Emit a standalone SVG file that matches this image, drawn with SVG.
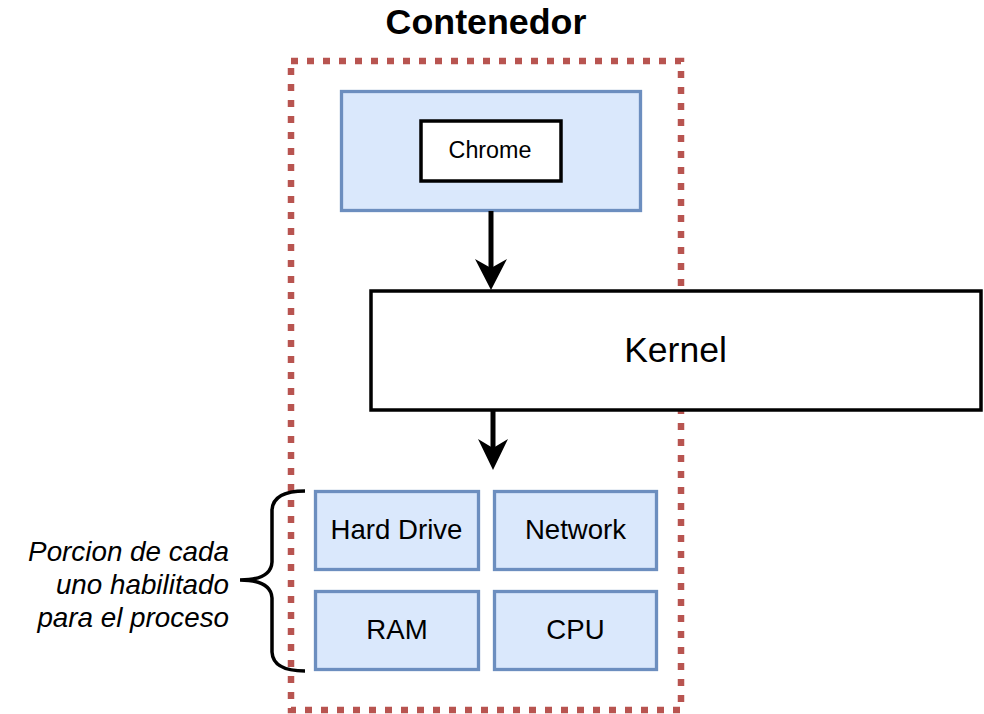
<svg xmlns="http://www.w3.org/2000/svg" width="984" height="714" viewBox="0 0 984 714">
<style>
.t{font-family:"Liberation Sans",Arial,sans-serif;fill:#000;text-anchor:middle}
.blue{fill:#dae8fc;stroke:#6c8ebf;stroke-width:3.3}
.blk{fill:#fff;stroke:#000;stroke-width:3.5}
.con{fill:none;stroke:#000;stroke-width:5}
.head{fill:#000;stroke:none}
</style>
<rect width="984" height="714" fill="#fff"/>
<g id="container">
<rect x="291" y="61" width="390" height="649" fill="none" stroke="#b85450" stroke-width="6.5" stroke-dasharray="7 9"/>
<text class="t" x="486" y="34" font-size="35.8" font-weight="bold">Contenedor</text>
</g>
<g id="app">
<rect class="blue" x="341.5" y="91.5" width="299" height="119"/>
</g>
<g id="chrome">
<rect class="blk" x="421" y="121" width="140" height="60"/>
<text class="t" x="490" y="158" font-size="23.3">Chrome</text>
</g>
<g id="kernel">
<rect class="blk" x="371" y="291" width="610" height="119"/>
<text class="t" x="675.5" y="362" font-size="35.5">Kernel</text>
</g>
<g id="harddrive">
<rect class="blue" x="315.5" y="491.5" width="163" height="78"/>
<text class="t" x="396.5" y="539" font-size="27.6">Hard Drive</text>
</g>
<g id="network">
<rect class="blue" x="494.5" y="491.5" width="162" height="78"/>
<text class="t" x="575.5" y="539" font-size="27.6">Network</text>
</g>
<g id="ram">
<rect class="blue" x="315.5" y="591.5" width="163" height="78"/>
<text class="t" x="397" y="639" font-size="27.6">RAM</text>
</g>
<g id="cpu">
<rect class="blue" x="494.5" y="591.5" width="162" height="78"/>
<text class="t" x="575.5" y="639" font-size="27.6">CPU</text>
</g>
<g id="brace">
<path d="M305,491 Q273,491 272,510 L272,562 Q271,580 240,580 Q271,580 272,598 L272,652 Q273,671 305,671" fill="none" stroke="#000" stroke-width="3.5"/>
<text font-family="'Liberation Sans',Arial,sans-serif" font-style="italic" font-size="27.8" text-anchor="end" fill="#000"><tspan x="229" y="561">Porcion de cada</tspan><tspan x="229" y="594">uno habilitado</tspan><tspan x="229" y="627">para el proceso</tspan></text>
</g>
<g id="connectors">
<line class="con" x1="491" y1="211" x2="491" y2="272"/>
<path class="head" d="M491,290 L475,259 L491,268 L507,259 Z"/>
<line class="con" x1="493" y1="411" x2="493" y2="452"/>
<path class="head" d="M493,470 L478,439 L493,448 L508,439 Z"/>
</g>
</svg>
